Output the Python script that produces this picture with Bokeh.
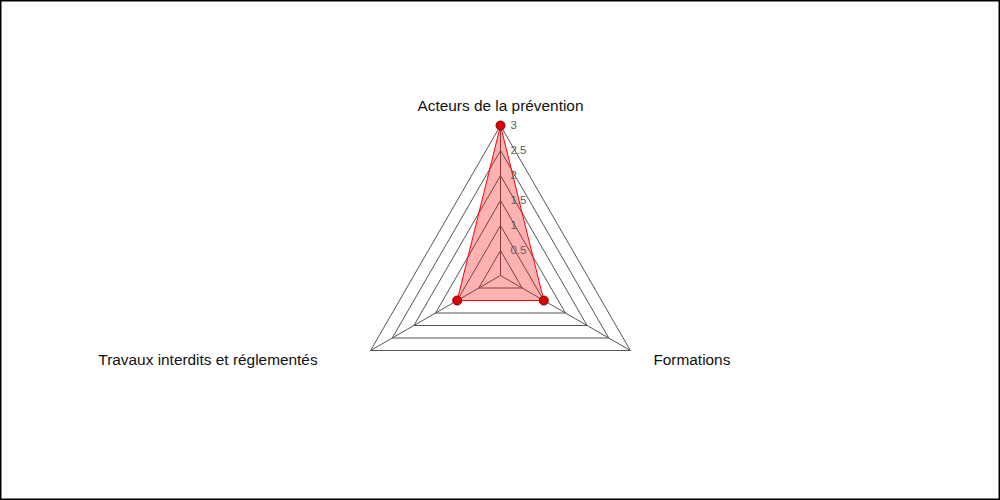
import numpy as np
from bokeh.plotting import figure
from bokeh.models import Range1d
from bokeh.core.properties import value
from bokeh.embed import file_html
from bokeh.resources import INLINE

categories = ["Acteurs de la prévention", "Formations", "Travaux interdits et réglementés"]
values = [3, 1, 1]
levels = [0.5, 1, 1.5, 2, 2.5, 3]
tick_labels = ["0.5", "1", "1.5", "2", "2.5", "3"]
max_value = 3

angles = np.deg2rad([90, -30, 210])

p = figure(width=1000, height=500, output_backend="svg", toolbar_location=None,
           x_range=Range1d(-10, 10), y_range=Range1d(-4.5, 5.5), min_border=0)
p.axis.visible = False
p.xgrid.visible = False
p.ygrid.visible = False
p.background_fill_color = "white"
p.border_fill_color = "white"
p.outline_line_color = "black"
p.outline_line_width = 2

# grid triangles
gx = [list(lv * np.cos(angles)) for lv in levels]
gy = [list(lv * np.sin(angles)) for lv in levels]
p.patches(gx, gy, fill_color=None, line_color="#555555", line_width=1)

# spokes
p.segment(x0=[0] * 3, y0=[0] * 3, x1=list(max_value * np.cos(angles)),
          y1=list(max_value * np.sin(angles)), line_color="#555555", line_width=1)

# data polygon
vx = list(np.array(values) * np.cos(angles))
vy = list(np.array(values) * np.sin(angles))
p.patch(vx, vy, fill_color="red", fill_alpha=0.3, line_color="red", line_width=1)
p.scatter(vx, vy, size=9, fill_color="#dd0000", line_color="#880000", line_width=1)

# tick labels
p.text(x=[0] * len(levels), y=levels, text=tick_labels, x_offset=10, y_offset=-1,
       text_font=value("Liberation Sans"), text_font_size="11.5px", text_color="#606060",
       text_baseline="middle", text_align="left")

# category labels
lx = list(max_value * np.cos(angles))
ly = list(max_value * np.sin(angles))
offx = [0, 23, -53]
offy = [-20, 9, 9]
aligns = ["center", "left", "right"]
for i in range(3):
    p.text(x=[lx[i]], y=[ly[i]], text=[categories[i]], x_offset=offx[i], y_offset=offy[i],
           text_font=value("Liberation Sans"), text_font_size="15.4px", text_color="#111111",
           text_baseline="middle", text_align=aligns[i])

open("out.html", "w").write(file_html(p, INLINE))
